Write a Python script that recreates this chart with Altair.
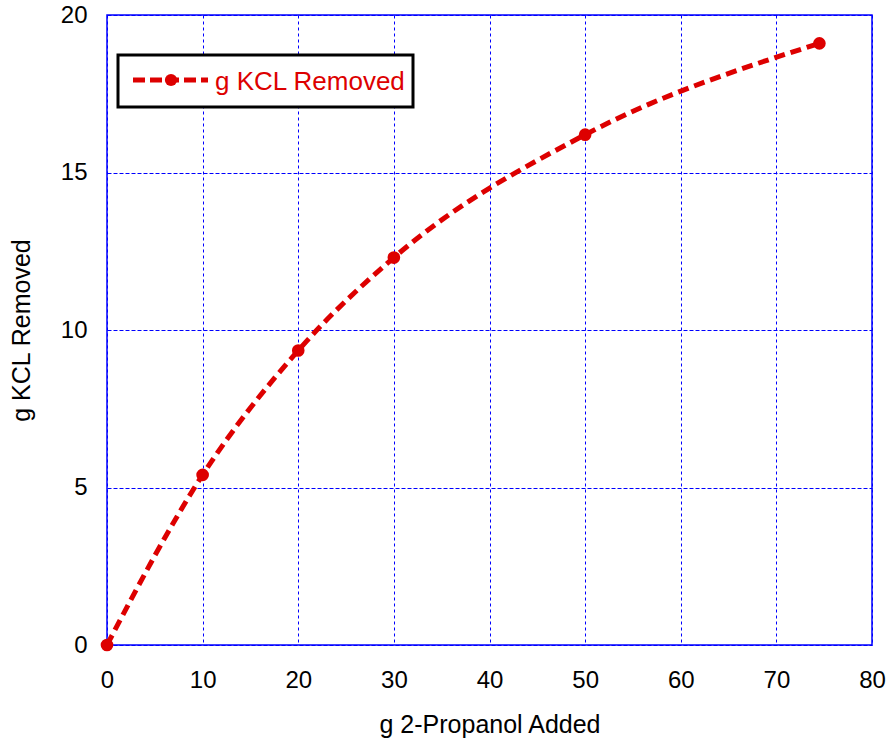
import altair as alt
import pandas as pd

# ---- data ----
x_vals = [0, 10, 20, 30, 50, 74.5]
y_vals = [0, 5.4, 9.35, 12.3, 16.2, 19.1]
series_name = "g KCL Removed"
x_title = "g 2-Propanol Added"
y_title = "g KCL Removed"
x_ticks = [0, 10, 20, 30, 40, 50, 60, 70, 80]
y_ticks = [0, 5, 10, 15, 20]

df = pd.DataFrame({"x": x_vals, "y": y_vals})
legend_df = pd.DataFrame({"label": [series_name]})

RED = "#dd0000"
BLUE = "#0000ff"
FONT = "Liberation Sans"

xs = alt.Scale(domain=[0, 80], nice=False, zero=False)
ys = alt.Scale(domain=[0, 20], nice=False, zero=False)

x_axis = alt.Axis(
    values=x_ticks, title=x_title, format="d",
    grid=True, gridColor=BLUE, gridDash=[3, 3], gridWidth=1, gridOpacity=1,
    domain=False, ticks=False, labelFlush=False,
    labelFont=FONT, labelFontSize=24, labelColor="black", labelPadding=23,
    titleFont=FONT, titleFontSize=25, titleFontWeight="normal", titleColor="black",
    titlePadding=20,
)
y_axis = alt.Axis(
    values=y_ticks, title=y_title, format="d",
    grid=True, gridColor=BLUE, gridDash=[4, 2], gridWidth=1, gridOpacity=1,
    domain=False, ticks=False, labelFlush=False,
    labelFont=FONT, labelFontSize=24, labelColor="black", labelPadding=20,
    titleFont=FONT, titleFontSize=25, titleFontWeight="normal", titleColor="black",
    titlePadding=26,
)

base = alt.Chart(df).encode(
    x=alt.X("x:Q", scale=xs, axis=x_axis),
    y=alt.Y("y:Q", scale=ys, axis=y_axis),
)

line = base.mark_line(
    color=RED, strokeWidth=5, strokeDash=[11, 6], interpolate="monotone", clip=True
)
pts = base.mark_point(filled=True, color=RED, size=160, opacity=1)

# ---- legend box (drawn as decoration in pixel space) ----
leg = alt.Chart(legend_df)
leg_box = leg.mark_rect(fill="white", stroke="black", strokeWidth=3).encode(
    x=alt.value(11), x2=alt.value(306), y=alt.value(40), y2=alt.value(92)
)
leg_line = leg.mark_rule(color=RED, strokeWidth=5, strokeDash=[12, 5]).encode(
    x=alt.value(26), x2=alt.value(101), y=alt.value(65)
)
leg_pt = leg.mark_point(filled=True, color=RED, size=150, opacity=1).encode(
    x=alt.value(64), y=alt.value(65)
)
leg_text = leg.mark_text(
    align="left", baseline="middle", font=FONT, fontSize=26, color=RED
).encode(x=alt.value(108), y=alt.value(67), text="label:N")

chart = (
    alt.layer(line, pts, leg_box, leg_line, leg_pt, leg_text)
    .properties(
        width=765,
        height=630,
        autosize=alt.AutoSizeParams(type="none"),
        padding={"left": 107, "top": 15, "right": 18, "bottom": 96},
        background="white",
    )
    .configure_view(stroke=BLUE, strokeWidth=1.5)
)

chart.save("out.html", embed_options={"renderer": "svg", "actions": False})
